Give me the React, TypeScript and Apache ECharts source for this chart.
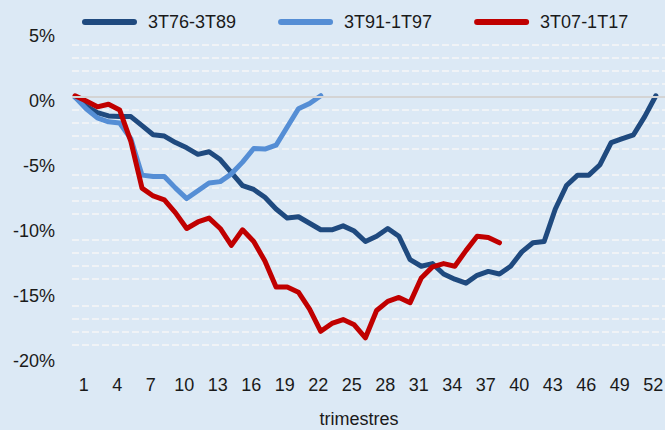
import React, { useEffect, useRef } from "react";
import * as echarts from "echarts";

const seriesNames = ["3T76-3T89", "3T91-1T97", "3T07-1T17"];

// cumulative change (%) by quarter index (0 = start quarter)
const s7689 = [
  0, -0.7, -1.2, -1.45, -1.5, -1.5, -2.2, -2.9, -3.0, -3.5,
  -3.9, -4.4, -4.2, -4.8, -5.8, -6.8, -7.1, -7.7, -8.6, -9.3,
  -9.2, -9.7, -10.2, -10.2, -9.9, -10.3, -11.1, -10.7, -10.1, -10.7,
  -12.5, -13.0, -12.8, -13.6, -14.0, -14.3, -13.7, -13.4, -13.6, -13.0,
  -11.9, -11.2, -11.1, -8.6, -6.8, -6.0, -6.0, -5.2, -3.5, -3.2,
  -2.9, -1.5, 0.1,
];
const s9197 = [
  0, -0.9, -1.6, -1.9, -2.0, -3.2, -6.0, -6.1, -6.1, -7.0,
  -7.8, -7.2, -6.6, -6.5, -5.9, -5.0, -3.95, -4.0, -3.7, -2.3,
  -0.9, -0.5, 0.1,
];
const s0717 = [
  0.1, -0.3, -0.75, -0.55, -1.0, -3.4, -7.0, -7.6, -7.9, -8.9,
  -10.1, -9.6, -9.3, -10.1, -11.4, -10.2, -11.1, -12.6, -14.6, -14.6,
  -15.0, -16.3, -18.0, -17.4, -17.1, -17.5, -18.5, -16.4, -15.7, -15.4,
  -15.8, -13.9, -13.05, -12.8, -13.0, -11.8, -10.7, -10.8, -11.2,
];
const xTickLabels = [1, 4, 7, 10, 13, 16, 19, 22, 25, 28, 31, 34, 37, 40, 43, 46, 49, 52];
const colors = ["#1f4a7f", "#558ed5", "#c00000"];

const FONT = "Liberation Sans, Arial, Helvetica, sans-serif";
const TXT = "#1a1a1a";

export default function App() {
  const ref = useRef<HTMLDivElement>(null);
  useEffect(() => {
    const chart = echarts.init(ref.current!, null, { renderer: "svg" });
    const toPts = (arr: number[]) => arr.map((v, i) => [i, v]);
    const all = [s7689, s9197, s0717];
    chart.setOption({
      animation: false,
      backgroundColor: "#dce9f5",
      textStyle: { fontFamily: FONT },
      grid: { left: 72, right: 0, top: 32, bottom: 72.7, outerBoundsMode: "none" },
      legend: {
        top: 7,
        left: 77,
        itemWidth: 55,
        itemHeight: 6,
        itemGap: 42,
        icon: "path://M3,0L52,0A3,3,0,0,1,52,6L3,6A3,3,0,0,1,3,0Z",
        textStyle: { fontSize: 18, color: TXT, fontFamily: FONT, padding: [0, 0, 0, 6], lineHeight: 20 },
        data: seriesNames,
      },
      xAxis: {
        type: "value",
        min: -0.27,
        max: 52.82,
        axisLine: { show: false },
        axisTick: { show: false },
        splitLine: { show: false },
        axisLabel: {
          customValues: xTickLabels,
          margin: 19,
          fontSize: 18,
          color: TXT,
          fontFamily: FONT,
          padding: [0, 5, 0, 0],
        },
        name: "trimestres",
        nameLocation: "middle",
        nameGap: 53,
        nameTextStyle: { fontSize: 18, color: TXT, fontFamily: FONT, padding: [0, 19, 0, 0], lineHeight: 18 },
      },
      yAxis: {
        type: "value",
        min: -20,
        max: 5,
        interval: 5,
        axisLine: { show: false },
        axisTick: { show: false },
        splitLine: { show: false },
        minorTick: { show: false, splitNumber: 5 },
        minorSplitLine: { show: true, lineStyle: { color: "#f0f3f6", width: 2, type: [7, 3] } },
        axisLabel: {
          formatter: "{value}%",
          fontSize: 18,
          color: TXT,
          fontFamily: FONT,
          margin: 17,
          verticalAlign: "top",
          lineHeight: 8,
        },
      },
      series: all.map((arr, k) => ({
        name: seriesNames[k],
        type: "line",
        data: toPts(arr),
        color: colors[k],
        symbol: "none",
        showSymbol: false,
        lineStyle: { width: 5, color: colors[k], cap: "round", join: "round" },
        ...(k === 0
          ? {
              markLine: {
                silent: true,
                symbol: "none",
                label: { show: false },
                lineStyle: { color: "#d4d4d4", width: 2, type: "solid" },
                data: [{ yAxis: 0 }],
              },
            }
          : {}),
      })),
    });
    return () => chart.dispose();
  }, []);
  return <div ref={ref} style={{ position: "fixed", left: 0, top: 0, width: 665, height: 430 }} />;
}
